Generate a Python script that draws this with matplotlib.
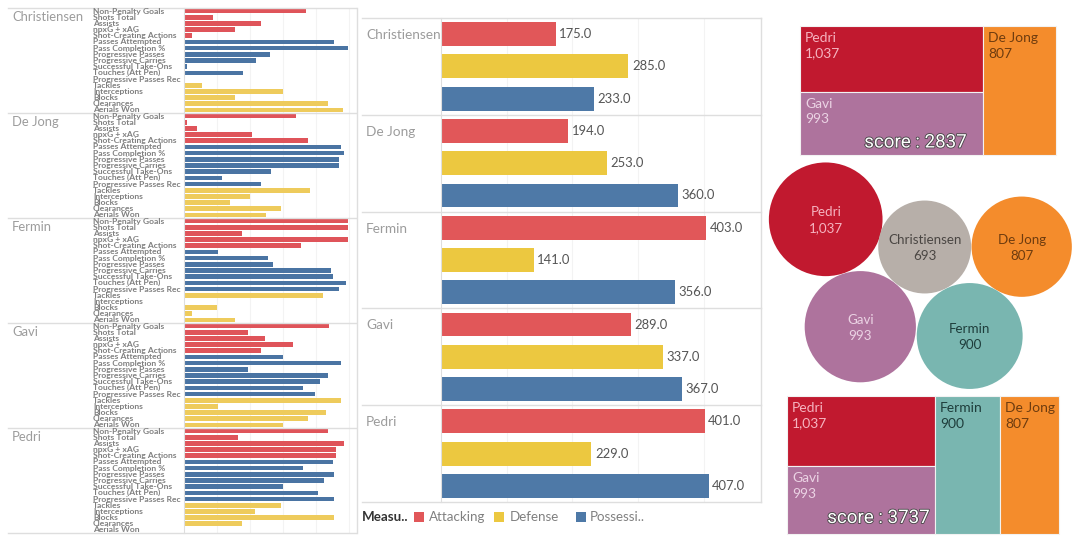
import matplotlib
matplotlib.use("Agg")
import matplotlib.pyplot as plt
import matplotlib.patheffects as pe
from matplotlib.patches import Circle, Rectangle

plt.rcParams["font.family"] = ["Lato", "DejaVu Sans"]

# data
players = ["Christiensen", "De Jong", "Fermin", "Gavi", "Pedri"]
stat_names = ["Non-Penalty Goals", "Shots Total", "Assists", "npxG + xAG", "Shot-Creating Actions",
              "Passes Attempted", "Pass Completion %", "Progressive Passes", "Progressive Carries",
              "Successful Take-Ons", "Touches (Att Pen)", "Progressive Passes Rec",
              "Tackles", "Interceptions", "Blocks", "Clearances", "Aerials Won"]
stat_groups = ["Attacking"] * 5 + ["Possession"] * 7 + ["Defense"] * 5

christiensen_stats = [74, 18, 47, 31, 5, 91, 99, 52, 44, 2, 36, 0, 11, 60, 31, 87, 96]
de_jong_stats = [68, 2, 8, 41, 75, 95, 97, 94, 94, 53, 23, 47, 76, 40, 28, 59, 50]
fermin_stats = [99, 99, 35, 99, 71, 21, 51, 54, 89, 90, 98, 94, 84, 1, 20, 5, 31]
gavi_stats = [88, 39, 49, 66, 47, 60, 95, 39, 87, 82, 72, 79, 95, 21, 86, 75, 60]
pedri_stats = [87, 33, 97, 92, 92, 90, 72, 91, 85, 60, 81, 91, 59, 43, 91, 35, 1]
all_stats = [christiensen_stats, de_jong_stats, fermin_stats, gavi_stats, pedri_stats]

measure_names = ["Attacking", "Defense", "Possession"]
attacking_totals = [175, 194, 403, 289, 401]
defense_totals = [285, 253, 141, 337, 229]
possession_totals = [233, 360, 356, 367, 407]

scores = {"Pedri": 1037, "Gavi": 993, "De Jong": 807, "Fermin": 900, "Christiensen": 693}

# colours
colors = {"Attacking": "#E15759", "Defense": "#ECC840", "Possession": "#4E79A7"}
left_colors = {"Attacking": "#DF545A", "Defense": "#EECB5C", "Possession": "#4A74A3"}
player_fill = {"Pedri": "#C1192F", "Gavi": "#AE739D", "De Jong": "#F48C2C",
               "Fermin": "#79B6B0", "Christiensen": "#B7AFA9"}
player_text = {"Pedri": "#F6B4C0", "Gavi": "#EBD3E4", "De Jong": "#6E3C0F",
               "Fermin": "#1E3D3B", "Christiensen": "#4A4643"}
line_color = "#DEDEDE"
grid_color = "#F3F3F3"
name_color = "#9C9C9C"

W, H = 1080, 542


def px_axes(left, top, right, bottom):
    return fig.add_axes([left / W, 1 - bottom / H, (right - left) / W, (bottom - top) / H])


fig = plt.figure(figsize=(W / 100, H / 100), dpi=100, facecolor="white")

# page layer, in pixels, for treemaps and bubbles
page = fig.add_axes([0, 0, 1, 1])
page.set_xlim(0, W)
page.set_ylim(H, 0)
page.axis("off")
page.set_zorder(3)

# left panel, percentile bars
ax1 = px_axes(183.5, 8, 356, 533)
ax1.set_xlim(0, 104)
ax1.set_ylim(85, 0)
ax1.set_axisbelow(True)
for spine in ax1.spines.values():
    spine.set_visible(False)
ax1.spines["left"].set_visible(True)
ax1.spines["left"].set_color(line_color)
ax1.set_xticks([20, 40, 60, 80, 100])
ax1.set_yticks([])
ax1.tick_params(length=0, labelbottom=False)
ax1.grid(axis="x", color=grid_color, linewidth=0.8)

for i, stats in enumerate(all_stats):
    for j, value in enumerate(stats):
        pos = i * 17 + j + 0.5
        ax1.barh(pos, value, height=0.76, color=left_colors[stat_groups[j]])
        page.text(93, 8 + pos * 525 / 85, stat_names[j], fontsize=6.1, color="#7F7F7F",
                  fontweight="bold", va="center", ha="left")
    page.text(12, 8 + i * 105 + 9, players[i], fontsize=9.4, color=name_color, va="center")

for i in range(6):
    page.plot([8, 356], [8 + i * 105, 8 + i * 105], color=line_color, lw=1)
page.plot([356.5, 356.5], [8, 533], color=line_color, lw=1)

# middle panel, totals
ax2 = px_axes(440.7, 18, 761, 502)
ax2.set_xlim(0, 486.4)
ax2.set_ylim(15, 0)
ax2.set_axisbelow(True)
for spine in ax2.spines.values():
    spine.set_visible(False)
ax2.spines["left"].set_visible(True)
ax2.spines["left"].set_color(line_color)
ax2.set_xticks([100, 200, 300, 400])
ax2.set_yticks([])
ax2.tick_params(length=0, labelbottom=False)
ax2.grid(axis="x", color=grid_color, linewidth=0.8)

totals = [attacking_totals, defense_totals, possession_totals]
for m, name in enumerate(measure_names):
    pos = [i * 3 + m + 0.5 for i in range(len(players))]
    bars = ax2.barh(pos, totals[m], height=0.74, color=colors[name])
    ax2.bar_label(bars, labels=[f"{v:.1f}" for v in totals[m]], padding=2.5, fontsize=9.4, color="#555555")

for i, name in enumerate(players):
    page.text(366, 18 + i * 96.8 + 17, name, fontsize=9.8, color=name_color, va="center")
for i in range(6):
    page.plot([362, 761], [18 + i * 96.8, 18 + i * 96.8], color=line_color, lw=1)
page.plot([761, 761], [18, 502], color=line_color, lw=1)

# legend
page.text(362, 517, "Measu..", fontsize=9.6, color="#333333", fontweight="bold", va="center")
legend_items = [("Attacking", 414, 429), ("Defense", 494, 510), ("Possession", 576, 590)]
for name, box_x, text_x in legend_items:
    page.add_patch(Rectangle((box_x, 511.5), 10, 10, facecolor=colors[name], edgecolor="none"))
    label = "Possessi.." if name == "Possession" else name
    page.text(text_x, 517, label, fontsize=9.6, color="#808080", va="center")


def tile(x0, y0, x1, y1, name):
    page.add_patch(Rectangle((x0, y0), x1 - x0, y1 - y0, facecolor=player_fill[name],
                             edgecolor="#F2F2F2", linewidth=0.8))
    page.text(x0 + 5, y0 + 6, f"{name}\n{scores[name]:,}", fontsize=10, color=player_text[name],
              va="top", ha="left", linespacing=1.35)


def score_label(x, y, total):
    txt = page.text(x, y, f"score : {total}", fontsize=13.5, color="white", ha="right", va="center",
                    family="Roboto")
    txt.set_path_effects([pe.withStroke(linewidth=1.2, foreground="#444444")])


# treemaps, widths and heights follow the scores
def stacked_treemap(x0, y0, x1, y1, stacked, columns):
    total = sum(scores[n] for n in stacked + columns)
    stack_sum = sum(scores[n] for n in stacked)
    split = x0 + (x1 - x0) * stack_sum / total
    mid = y0 + (y1 - y0) * scores[stacked[0]] / stack_sum
    tile(x0, y0, split, mid, stacked[0])
    tile(x0, mid, split, y1, stacked[1])
    left = split
    for n in columns:
        right = left + (x1 - x0) * scores[n] / total
        tile(left, y0, right, y1, n)
        left = right
    return total


total = stacked_treemap(800, 26, 1056, 155, ["Pedri", "Gavi"], ["De Jong"])
score_label(967, 142.5, total)

total = stacked_treemap(787, 396, 1059, 534, ["Pedri", "Gavi"], ["Fermin", "De Jong"])
score_label(930, 518, total)

# bubbles, area follows the score, centres are the packed layout
bubble_centers = {"Pedri": (825.7, 219.3), "Christiensen": (924.7, 247), "De Jong": (1021.7, 246.7),
                  "Gavi": (860.3, 326.7), "Fermin": (969.7, 336)}
for name, (cx, cy) in bubble_centers.items():
    r = 1.765 * scores[name] ** 0.5
    page.add_patch(Circle((cx, cy), r, facecolor=player_fill[name], edgecolor="none"))
    page.text(cx, cy + 1, f"{name}\n{scores[name]:,}", fontsize=9.6, color=player_text[name],
              ha="center", va="center", linespacing=1.4)

fig.savefig("out.png", dpi=100, facecolor="white")
